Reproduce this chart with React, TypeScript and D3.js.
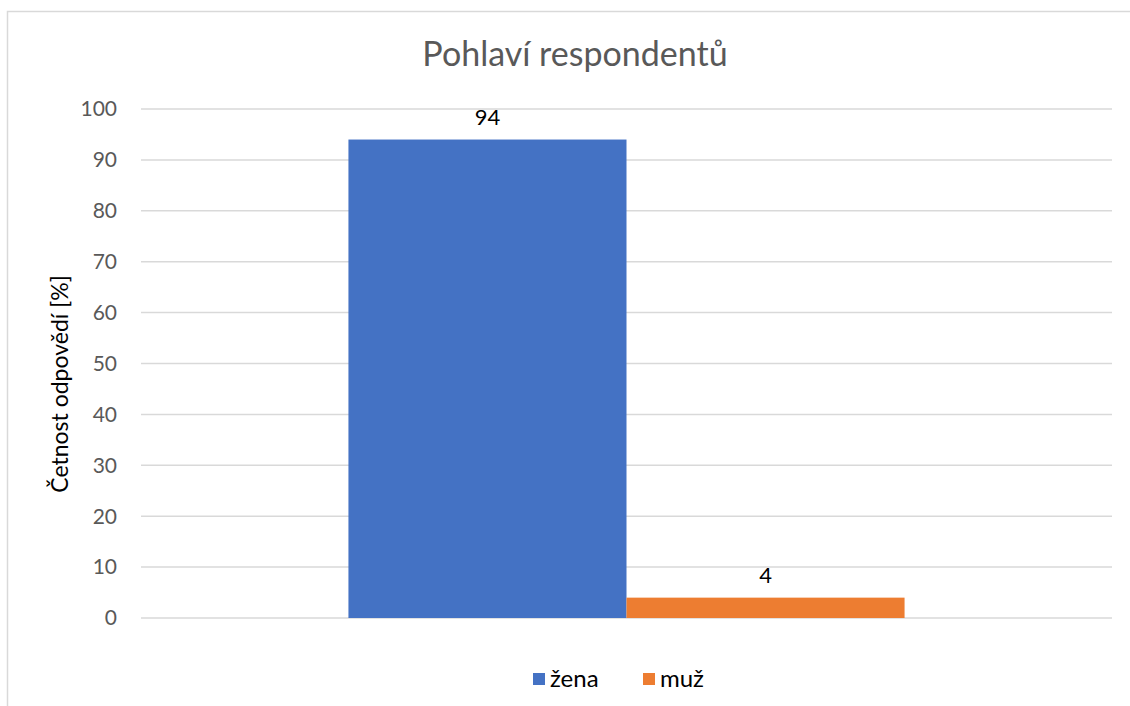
import { useEffect, useRef } from "react";
import * as d3 from "d3";

const categories = ["ženy"];
const seriesNames = ["žena", "muž"];
const seriesValues = [94, 4];
const seriesColors = ["#4472c4", "#ed7d31"];
const yTicks = [0, 10, 20, 30, 40, 50, 60, 70, 80, 90, 100];

function App() {
  const svgRef = useRef<SVGSVGElement>(null);

  useEffect(() => {
    const width = 1130;
    const height = 706;
    const margin = { top: 109, right: 18, bottom: 88, left: 141 };
    const font = "Lato, 'Open Sans', sans-serif";

    const svg = d3.select(svgRef.current);
    svg.selectAll("*").remove();

    // chart frame
    svg.append("path")
      .attr("d", `M7.5,${height} V11.5 H${width}`)
      .attr("fill", "none")
      .attr("stroke", "#d9d9d9")
      .attr("stroke-width", 1.5);

    const y = d3.scaleLinear()
      .domain([0, 100])
      .range([height - margin.bottom, margin.top]);

    const x0 = d3.scaleBand()
      .domain(categories)
      .range([margin.left, width - margin.right])
      .paddingInner(0)
      .paddingOuter(0.373);

    const x1 = d3.scaleBand()
      .domain(seriesNames)
      .range([0, x0.bandwidth()]);

    // grid
    svg.append("g")
      .selectAll("line")
      .data(yTicks)
      .join("line")
      .attr("x1", margin.left)
      .attr("x2", width - margin.right)
      .attr("y1", d => y(d))
      .attr("y2", d => y(d))
      .attr("stroke", "#d9d9d9")
      .attr("stroke-width", 1.5);

    svg.append("g")
      .selectAll("text")
      .data(yTicks)
      .join("text")
      .attr("x", 117)
      .attr("y", d => y(d))
      .attr("dy", "0.35em")
      .attr("text-anchor", "end")
      .attr("font-family", font)
      .attr("font-size", 21)
      .attr("fill", "#595959")
      .text(d => d);

    const bars = svg.append("g");
    seriesNames.forEach((name, i) => {
      const bx = (x0(categories[0]) ?? 0) + (x1(name) ?? 0);
      bars.append("rect")
        .attr("x", bx)
        .attr("y", y(seriesValues[i]))
        .attr("width", x1.bandwidth())
        .attr("height", y(0) - y(seriesValues[i]))
        .attr("fill", seriesColors[i]);
      bars.append("text")
        .attr("x", bx + x1.bandwidth() / 2)
        .attr("y", y(seriesValues[i]) - 15)
        .attr("text-anchor", "middle")
        .attr("font-family", font)
        .attr("font-size", 22)
        .attr("fill", "#000")
        .text(seriesValues[i]);
    });

    // title
    svg.append("text")
      .attr("x", 575)
      .attr("y", 66)
      .attr("text-anchor", "middle")
      .attr("font-family", font)
      .attr("font-size", 34)
      .attr("fill", "#595959")
      .text("Pohlaví respondentů");

    // y axis title
    svg.append("text")
      .attr("transform", "translate(68,384) rotate(-90)")
      .attr("text-anchor", "middle")
      .attr("font-family", font)
      .attr("font-size", 23)
      .attr("fill", "#000")
      .text("Četnost odpovědí [%]");

    // legend
    const legendX = [533, 643];
    seriesNames.forEach((name, i) => {
      svg.append("rect")
        .attr("x", legendX[i])
        .attr("y", 673)
        .attr("width", 12)
        .attr("height", 12)
        .attr("fill", seriesColors[i]);
      svg.append("text")
        .attr("x", legendX[i] + 17)
        .attr("y", 687)
        .attr("font-family", font)
        .attr("font-size", 24)
        .attr("fill", "#000")
        .text(name);
    });
  }, []);

  return (
    <svg
      ref={svgRef}
      width={1130}
      height={706}
      style={{ position: "absolute", left: 0, top: 0, background: "#fff" }}
    />
  );
}

export default App;
